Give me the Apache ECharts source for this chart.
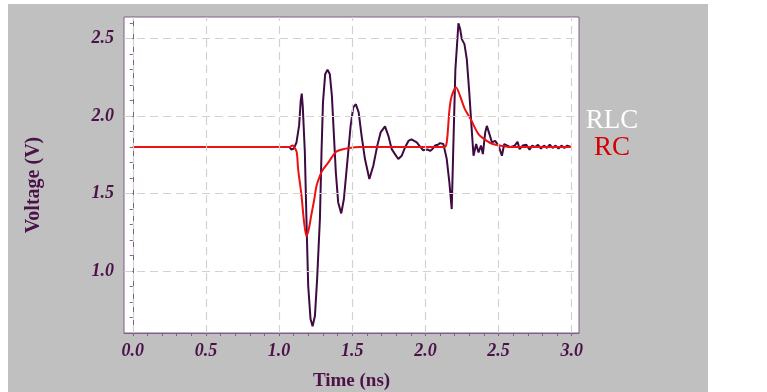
<!DOCTYPE html>
<html>
<head>
<meta charset="utf-8">
<script src="https://cdn.jsdelivr.net/npm/echarts@6/dist/echarts.min.js"></script>
<style>
  html, body { margin: 0; padding: 0; background: #fff; }
  #bg { position: absolute; left: 8px; top: 4px; width: 700px; height: 388px; background: #c0c0c0; }
  #chart { position: absolute; left: 0; top: 0; width: 767px; height: 392px; }
</style>
</head>
<body>
<div id="bg"></div>
<div id="chart"></div>
<script>
// time (ns), voltage (V)
const rlcData = [
  [0, 1.80], [0.5, 1.80], [1.0, 1.80], [1.07, 1.80], [1.085, 1.785], [1.10, 1.79],
  [1.119, 1.83], [1.137, 1.94], [1.148, 2.10], [1.155, 2.145], [1.162, 2.06], [1.176, 1.77],
  [1.187, 1.335], [1.199, 0.905], [1.215, 0.69], [1.229, 0.643], [1.245, 0.71], [1.26, 0.948],
  [1.279, 1.335], [1.29, 1.766], [1.30, 2.088], [1.315, 2.27], [1.331, 2.30], [1.347, 2.27],
  [1.361, 2.13], [1.375, 1.873], [1.388, 1.636], [1.404, 1.443], [1.425, 1.372], [1.443, 1.465],
  [1.466, 1.70], [1.489, 1.937], [1.507, 2.056], [1.525, 2.077], [1.544, 2.024], [1.564, 1.873],
  [1.587, 1.723], [1.617, 1.594], [1.644, 1.68], [1.671, 1.808], [1.694, 1.895], [1.724, 1.934],
  [1.747, 1.873], [1.77, 1.787], [1.792, 1.755], [1.815, 1.723], [1.838, 1.744], [1.861, 1.798],
  [1.884, 1.84], [1.905, 1.85], [1.918, 1.862], [1.941, 1.83], [1.968, 1.798], [1.985, 1.78],
  [1.998, 1.77], [2.015, 1.785], [2.032, 1.775], [2.05, 1.79], [2.066, 1.81], [2.085, 1.815],
  [2.10, 1.826], [2.113, 1.815], [2.123, 1.82], [2.146, 1.723], [2.164, 1.572], [2.18, 1.40],
  [2.19, 1.766], [2.205, 2.30], [2.226, 2.60], [2.238, 2.56], [2.249, 2.497], [2.267, 2.465],
  [2.283, 2.368], [2.30, 2.153], [2.318, 1.895], [2.329, 1.744], [2.347, 1.82], [2.363, 1.766],
  [2.38, 1.81], [2.393, 1.755], [2.409, 1.895], [2.42, 1.937], [2.438, 1.884], [2.455, 1.83],
  [2.477, 1.84], [2.50, 1.81], [2.523, 1.744], [2.539, 1.82], [2.56, 1.81], [2.58, 1.80],
  [2.61, 1.81], [2.63, 1.834], [2.644, 1.787], [2.665, 1.81], [2.69, 1.815], [2.712, 1.783],
  [2.73, 1.81], [2.75, 1.80], [2.77, 1.815], [2.79, 1.79], [2.81, 1.81], [2.83, 1.795],
  [2.85, 1.815], [2.87, 1.795], [2.89, 1.81], [2.91, 1.79], [2.93, 1.81], [2.95, 1.795],
  [2.97, 1.81], [3.0, 1.80]
]
const rcData = [
  [0, 1.80], [1.07, 1.80], [1.09, 1.81], [1.10, 1.805], [1.12, 1.77], [1.13, 1.66],
  [1.153, 1.49], [1.171, 1.314], [1.188, 1.224], [1.205, 1.28], [1.22, 1.36], [1.24, 1.46],
  [1.256, 1.55], [1.279, 1.615], [1.30, 1.655], [1.336, 1.70], [1.39, 1.77], [1.43, 1.785],
  [1.48, 1.795], [1.55, 1.80], [2.13, 1.80], [2.146, 1.83], [2.165, 2.045], [2.18, 2.13],
  [2.21, 2.185], [2.237, 2.13], [2.27, 2.045], [2.31, 1.98], [2.363, 1.884], [2.42, 1.84],
  [2.46, 1.82], [2.51, 1.81], [2.6, 1.80], [3.0, 1.80]
]
const xMajor = [0, 0.5, 1.0, 1.5, 2.0, 2.5, 3.0]
const xMinor = [0, 0.1, 0.2, 0.3, 0.4, 0.5, 0.6, 0.7, 0.8, 0.9, 1.0, 1.1, 1.2, 1.3, 1.4, 1.5,
  1.6, 1.7, 1.8, 1.9, 2.0, 2.1, 2.2, 2.3, 2.4, 2.5, 2.6, 2.7, 2.8, 2.9, 3.0]
const yMajor = [1.0, 1.5, 2.0, 2.5]
const yMinor = [0.7, 0.8, 0.9, 1.0, 1.1, 1.2, 1.3, 1.4, 1.5, 1.6, 1.7, 1.8, 1.9, 2.0,
  2.1, 2.2, 2.3, 2.4, 2.5, 2.6]

const axisColor = '#7e5e88'
const textColor = '#4a1248'
const serif = '"Liberation Serif", "DejaVu Serif", serif'

const chart = echarts.init(document.getElementById('chart'))

chart.setOption({
  animation: false,
  grid: {
    left: 124, top: 17, right: 188, bottom: 59,
    show: true,
    backgroundColor: '#fff',
    borderColor: axisColor,
    borderWidth: 1,
    outerBoundsMode: 'none'
  },
  xAxis: {
    type: 'value',
    min: -0.06,
    max: 3.05,
    name: 'Time (ns)',
    nameLocation: 'middle',
    nameGap: 39,
    nameTextStyle: { fontFamily: serif, fontWeight: 'bold', fontSize: 19, color: textColor },
    axisLine: { show: true, lineStyle: { color: axisColor } },
    axisTick: { show: true, length: 3, customValues: xMinor, lineStyle: { color: axisColor } },
    axisLabel: {
      customValues: xMajor,
      margin: 9,
      formatter: v => v.toFixed(1),
      fontFamily: serif, fontStyle: 'italic', fontWeight: 'bold', fontSize: 18, color: textColor
    },
    splitLine: { show: false }
  },
  yAxis: {
    type: 'value',
    min: 0.6,
    max: 2.64,
    name: 'Voltage (V)',
    nameLocation: 'middle',
    nameGap: 80,
    nameRotate: 90,
    nameTextStyle: { fontFamily: serif, fontWeight: 'bold', fontSize: 20, color: textColor, padding: [0, 20, 0, 0] },
    axisLine: { show: true, lineStyle: { color: axisColor } },
    axisTick: { show: true, length: 3, customValues: yMinor, lineStyle: { color: axisColor } },
    axisLabel: {
      customValues: yMajor,
      margin: 10,
      formatter: v => v.toFixed(1),
      fontFamily: serif, fontStyle: 'italic', fontWeight: 'bold', fontSize: 18, color: textColor
    },
    splitLine: { show: false }
  },
  graphic: [
    {
      type: 'text', x: 612, y: 121,
      style: { text: 'RLC', fill: '#ffffff', fontFamily: serif, fontSize: 27, textAlign: 'center', textVerticalAlign: 'middle' }
    },
    {
      type: 'text', x: 612, y: 148,
      style: { text: 'RC', fill: '#d40000', fontFamily: serif, fontSize: 27, textAlign: 'center', textVerticalAlign: 'middle' }
    }
  ],
  series: [
    {
      // dashed grid lines
      type: 'line',
      z: 1,
      data: [[0, 1.8]],
      showSymbol: false,
      lineStyle: { opacity: 0 },
      silent: true,
      markLine: {
        silent: true,
        symbol: 'none',
        label: { show: false },
        lineStyle: { color: '#d2d2d2', type: [8, 5], width: 1.2 },
        data: xMajor.map(v => ({ xAxis: v })).concat(yMajor.map(v => ({ yAxis: v })))
      }
    },
    {
      name: 'RLC',
      type: 'line',
      z: 3,
      data: rlcData,
      showSymbol: false,
      lineStyle: { color: '#3e0a42', width: 2 }
    },
    {
      name: 'RC',
      type: 'line',
      z: 4,
      data: rcData,
      showSymbol: false,
      smooth: 0.3,
      lineStyle: { color: '#ee1111', width: 2 }
    }
  ]
})
</script>
</body>
</html>
